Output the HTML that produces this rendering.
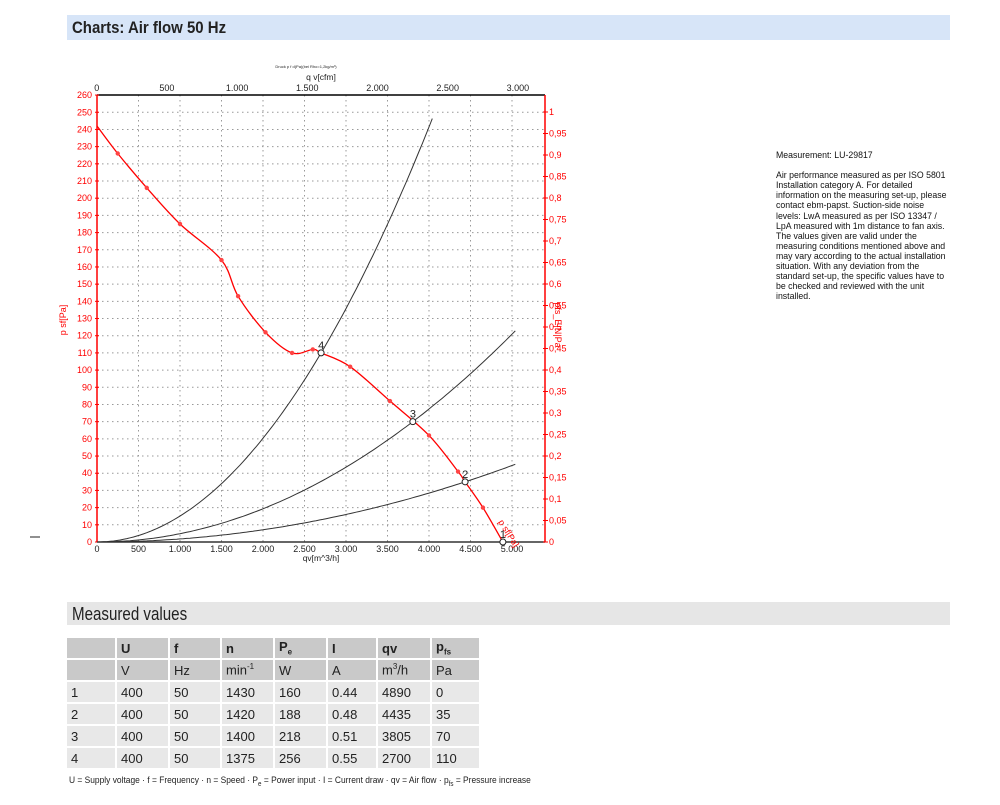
<!DOCTYPE html>
<html><head><meta charset="utf-8"><style>
body{margin:0;width:1000px;height:805px;background:#fff;font-family:"Liberation Sans",sans-serif;position:relative;overflow:hidden}
.bar1{position:absolute;left:67px;top:15px;width:883px;height:25px;background:#d7e5f8}
.bar1 span{position:absolute;left:5px;top:3px;font-size:17px;font-weight:bold;color:#222;transform:scaleX(0.88);transform-origin:0 0;white-space:nowrap}
.bar2{position:absolute;left:67px;top:602px;width:883px;height:23px;background:#e6e6e6}
.bar2 span{position:absolute;left:5px;top:2px;font-size:18px;color:#222;transform:scaleX(0.84);transform-origin:0 0;white-space:nowrap}
.note{position:absolute;left:776px;top:150px;font-family:"Liberation Sans Narrow","Liberation Sans",sans-serif;font-size:9.3px;line-height:10.1px;color:#111;transform:scaleX(0.94);transform-origin:0 0;white-space:nowrap}
table{position:absolute;left:65px;top:636px;border-collapse:separate;border-spacing:2px;font-size:13px;color:#222;table-layout:fixed}
td{height:20px;padding:0 0 0 4px;vertical-align:middle;overflow:hidden;white-space:nowrap}
tr.h td{background:#c9c9c9}
tr.d td{background:#e8e8e8}
.foot{position:absolute;left:69px;top:775px;font-size:9.5px;color:#222;transform:scaleX(0.885);transform-origin:0 0;white-space:nowrap}
</style></head><body>
<div class="bar1"><span>Charts: Air flow 50 Hz</span></div>
<svg id="c" width="1000" height="600" style="position:absolute;left:0;top:0"></svg>
<div class="note">Measurement: LU-29817<br><br>Air performance measured as per ISO 5801<br>Installation category A. For detailed<br>information on the measuring set-up, please<br>contact ebm-papst. Suction-side noise<br>levels: LwA measured as per ISO 13347 /<br>LpA measured with 1m distance to fan axis.<br>The values given are valid under the<br>measuring conditions mentioned above and<br>may vary according to the actual installation<br>situation. With any deviation from the<br>standard set-up, the specific values have to<br>be checked and reviewed with the unit<br>installed.</div>
<div class="bar2"><span>Measured values</span></div>
<table>
<colgroup><col style="width:48px"><col style="width:51px"><col style="width:50px"><col style="width:51px"><col style="width:51px"><col style="width:48px"><col style="width:52px"><col style="width:47px"></colgroup>
<tr class="h"><td></td><td><b>U</b></td><td><b>f</b></td><td><b>n</b></td><td><b>P<sub style="font-size:8px">e</sub></b></td><td><b>I</b></td><td><b>qv</b></td><td><b>p<sub style="font-size:8px">fs</sub></b></td></tr>
<tr class="h"><td></td><td>V</td><td>Hz</td><td>min<sup style="font-size:8px">-1</sup></td><td>W</td><td>A</td><td>m<sup style="font-size:8px">3</sup>/h</td><td>Pa</td></tr>
<tr class="d"><td>1</td><td>400</td><td>50</td><td>1430</td><td>160</td><td>0.44</td><td>4890</td><td>0</td></tr>
<tr class="d"><td>2</td><td>400</td><td>50</td><td>1420</td><td>188</td><td>0.48</td><td>4435</td><td>35</td></tr>
<tr class="d"><td>3</td><td>400</td><td>50</td><td>1400</td><td>218</td><td>0.51</td><td>3805</td><td>70</td></tr>
<tr class="d"><td>4</td><td>400</td><td>50</td><td>1375</td><td>256</td><td>0.55</td><td>2700</td><td>110</td></tr>
</table>
<div class="foot">U = Supply voltage · f = Frequency · n = Speed · P<sub style="font-size:7px">e</sub> = Power input · I = Current draw · qv = Air flow · p<sub style="font-size:7px">fs</sub> = Pressure increase</div>
<script>
var X=q=>97+q*0.083,Y=p=>542-p*1.719,s='';
var L=97,R=545,T=95,B=542;
function fmt(n){if(n<1000)return String(n);var t=String(n);return t.slice(0,t.length-3)+'.'+t.slice(-3);}
for(var q=500;q<=5300;q+=500){var x=X(q);s+=`<line x1="${x}" y1="${T}" x2="${x}" y2="${B}" stroke="#999" stroke-dasharray="1.5,3.5" stroke-width="1"/>`;}
for(var p=10;p<=250;p+=10){var y=Y(p);s+=`<line x1="${L}" y1="${y}" x2="${R}" y2="${y}" stroke="#999" stroke-dasharray="1.5,3.5" stroke-width="1"/>`;}
s+=`<line x1="${L}" y1="${T}" x2="${R}" y2="${T}" stroke="#000" stroke-width="1.5"/>`;
s+=`<line x1="${L}" y1="${B}" x2="${R}" y2="${B}" stroke="#333" stroke-width="1.5"/>`;
s+=`<line x1="${L}" y1="${T}" x2="${L}" y2="${B}" stroke="red" stroke-width="1.5"/>`;
s+=`<line x1="${R}" y1="${T}" x2="${R}" y2="${B}" stroke="red" stroke-width="1.5"/>`;
for(var p=0;p<=260;p+=10){var y=Y(p);s+=`<text x="92" y="${y+3}" font-size="9" fill="red" text-anchor="end">${p}</text><line x1="${L-2}" y1="${y}" x2="${L+2}" y2="${y}" stroke="red"/>`;}
for(var i=0;i<=20;i++){var v=i*0.05,y=542-i*21.5;var t=i==0?'0':(i==20?'1':String(+v.toFixed(2)).replace('.',','));s+=`<text x="549" y="${y+3}" font-size="9" fill="red">${t}</text><line x1="${R-2}" y1="${y}" x2="${R+3}" y2="${y}" stroke="red"/>`;}
for(var q=0;q<=5000;q+=500){var x=X(q);s+=`<text x="${x}" y="552" font-size="9" fill="#222" text-anchor="middle">${fmt(q)}</text>`;}
for(var c=0;c<=3000;c+=500){var x=96.7+c*0.1404;s+=`<text x="${x}" y="91" font-size="9" fill="#222" text-anchor="middle">${fmt(c)}</text>`;}
s+=`<text x="321" y="561" font-size="8.5" fill="#222" text-anchor="middle">qv[m^3/h]</text>`;
s+=`<text x="321" y="80" font-size="8.5" fill="#222" text-anchor="middle">q v[cfm]</text>`;
s+=`<text x="306" y="68" font-size="4" fill="#222" text-anchor="middle">Druck p f d(Pa)(bei Rho=1,2kg/m³)</text>`;
s+=`<text transform="translate(66,320) rotate(-90)" font-size="9" fill="red" text-anchor="middle">p sf[Pa]</text>`;
s+=`<text transform="translate(555,325) rotate(90)" font-size="9" fill="red" text-anchor="middle">pfs_E|N|Pa</text>`;
[[110,2700,4072],[70,3805,5070],[35,4435,5070]].forEach(function(a){var d='';for(var q=0;q<=a[2];q+=40){d+=(q?'L':'M')+X(q).toFixed(1)+','+Y(a[0]*q*q/a[1]/a[1]).toFixed(1);}s+=`<path d="${d}" fill="none" stroke="#333" stroke-width="1"/>`;});
var P=[[0,242],[250,226],[600,206],[1000,185],[1500,164],[1700,143],[2030,122],[2350,110],[2600,112],[2700,110],[3050,102],[3530,82],[4000,62],[4350,41],[4435,35],[4650,20],[4890,0]];
var pts=P.map(a=>[X(a[0]),Y(a[1])]);var d='M'+pts[0];
for(var i=0;i<pts.length-1;i++){var p0=pts[Math.max(i-1,0)],p1=pts[i],p2=pts[i+1],p3=pts[Math.min(i+2,pts.length-1)];
d+=` C${p1[0]+(p2[0]-p0[0])/6},${p1[1]+(p2[1]-p0[1])/6} ${p2[0]-(p3[0]-p1[0])/6},${p2[1]-(p3[1]-p1[1])/6} ${p2[0]},${p2[1]}`;}
s+=`<path d="${d}" fill="none" stroke="red" stroke-width="1.3"/>`;
[1,2,3,4,5,6,7,8,10,11,12,13,15].forEach(i=>{s+=`<circle cx="${pts[i][0]}" cy="${pts[i][1]}" r="2.2" fill="#f44"/>`;});
[[4890,0,'1'],[4435,35,'2'],[3805,70,'3'],[2700,110,'4']].forEach(a=>{var x=X(a[0]),y=Y(a[1]);s+=`<circle cx="${x}" cy="${y}" r="3" fill="#fff" stroke="#222"/><text x="${x-3}" y="${y-4}" font-size="11" fill="#222">${a[2]}</text>`;});
s+=`<text transform="translate(498,522) rotate(58)" font-size="9" fill="red">p sf[Pa]</text>`;
s+=`<line x1="30" y1="537" x2="40" y2="537" stroke="#222"/>`;
document.getElementById('c').innerHTML=s;
</script>
</body></html>
